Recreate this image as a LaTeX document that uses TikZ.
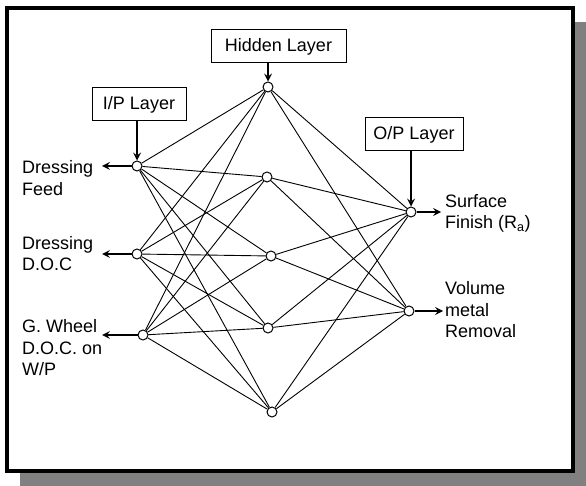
\documentclass[tikz,border=0pt]{standalone}
\usepackage{fontspec}
\setmainfont{Liberation Sans}
\usetikzlibrary{arrows,calc,positioning}

\begin{document}
\begin{tikzpicture}[x=1pt,y=-1pt,>=stealth,
    neuron/.style={circle,draw,fill=white,inner sep=0pt,minimum size=10pt,line width=1pt},
    layerbox/.style={draw,fill=white,line width=1pt,inner sep=0pt,minimum height=33pt,
      font=\fontsize{18}{20}\selectfont},
    lbl/.style={align=left,inner sep=0pt,font=\fontsize{18}{21.5}\selectfont},
    link/.style={line width=0.9pt},
    feed/.style={->,line width=2.4pt}]
    \useasboundingbox (0,0) rectangle (586,486);
    % shadow and frame
    \fill[black!50] (20,22) rectangle (586,486);
    \filldraw[fill=white,line width=4pt] (7,8) rectangle (572.5,470.5);
    % layers
    \node[neuron] (i1) at (137,166) {};
    \node[neuron] (i2) at (137,254) {};
    \node[neuron] (i3) at (143,335) {};
    \node[neuron] (h1) at (268,87) {};
    \node[neuron] (h2) at (267,177) {};
    \node[neuron] (h3) at (271,256) {};
    \node[neuron] (h4) at (268,328) {};
    \node[neuron] (h5) at (272,412) {};
    \node[neuron] (o1) at (411,212) {};
    \node[neuron] (o2) at (409,311) {};
    \foreach \h in {1,...,5} {
      \foreach \i in {1,2,3}
        \draw[link] (i\i) -- (h\h);
      \foreach \o in {1,2}
        \draw[link] (h\h) -- (o\o);
    }
    % layer boxes
    \node[layerbox,minimum width=135pt] (hidbox) at (278.5,46.5) {Hidden Layer};
    \node[layerbox,minimum width=94pt] (ipbox) at (139,104.5) {I/P Layer};
    \node[layerbox,minimum width=98pt] (opbox) at (414,134.5) {O/P Layer};
    \draw[feed] (hidbox.south -| h1) -- (h1);
    \draw[feed] (ipbox.south -| i1) -- (i1);
    \draw[feed] (opbox.south -| o1) -- (o1);
    % inputs and outputs
    \coordinate (s1) at (102,166);
    \coordinate (s2) at (102,254);
    \coordinate (s3) at (102,335);
    \coordinate (e1) at (441,212);
    \coordinate (e2) at (443,311);
    \foreach \i in {1,2,3}
      \draw[feed] (i\i) -- (s\i);
    \foreach \o in {1,2}
      \draw[feed] (o\o) -- (e\o);
    \node[lbl,anchor=west] (labfeed) at (22,178) {Dressing\\Feed};
    \node[lbl,anchor=west] (labdoc) at (22,253.5) {Dressing\\D.O.C};
    \node[lbl,anchor=west] (labwheel) at (22,348) {G. Wheel\\D.O.C. on\\W/P};
    \node[lbl,anchor=west] (labfinish) at (445,213.5) {Surface\\Finish (R\textsubscript{a})};
    \node[lbl,anchor=west] (labvol) at (445,310) {Volume\\metal\\Removal};
  \end{tikzpicture}
\end{document}
